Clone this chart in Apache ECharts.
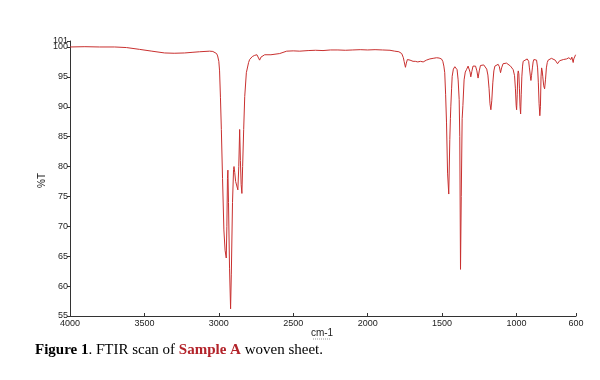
<!DOCTYPE html>
<html>
<head>
<meta charset="utf-8">
<script src="https://cdn.jsdelivr.net/npm/echarts@6/dist/echarts.min.js"></script>
<style>
html,body{margin:0;padding:0;background:#fff;}
#chart{width:600px;height:380px;}
</style>
</head>
<body>
<div id="chart"></div>
<script>
// Wavenumber (cm-1) and transmittance (%T)
const wavenumbers = [
4000,3900,3802,3700,3620,3533,3450,3364,3300,3230,3180,3129,3062,3040,3028,3015,3008,3000,2995,2989,
2983,2975,2966,2958,2950,2946,2942,2939,2935,2928,2921,2916,2908,2901,2898,2893,2887,2882,2879,2872,
2866,2860,2855,2850,2845,2840,2833,2826,2815,2800,2793,2775,2759,2744,2735,2726,2717,2707,2692,2650,
2591,2544,2500,2456,2400,2350,2300,2250,2200,2150,2100,2050,2000,1950,1900,1850,1818,1790,1771,1760,
1755,1746,1740,1733,1728,1715,1695,1680,1663,1645,1627,1605,1582,1560,1537,1520,1504,1495,1488,1482,
1476,1470,1463,1455,1448,1444,1441,1436,1432,1424,1414,1405,1399,1392,1385,1381,1376,1371,1365,1360,
1358,1352,1344,1336,1325,1318,1312,1307,1300,1292,1286,1275,1266,1258,1250,1242,1235,1220,1212,1200,
1192,1184,1178,1172,1166,1159,1152,1145,1135,1123,1115,1107,1100,1090,1078,1067,1056,1040,1022,1013,
1007,1002,999,995,991,988,984,980,976,972,968,964,959,955,945,928,918,913,906,903,
899,893,888,883,875,865,858,853,848,843,839,835,831,827,823,817,811,805,799,793,
787,775,765,753,740,731,724,717,710,697,685,675,663,655,648,640,634,628,624,619,
615,611,606,603,600
];
const transmittance = [
100.0,100.05,100.0,100.0,99.9,99.6,99.3,99.0,98.95,99.0,99.1,99.2,99.3,99.25,99.1,98.9,98.5,97.6,96.0,91.5,
86.2,78,69.4,66,64.7,70,78,79.4,74,63,56.2,62,74,79.5,80.0,79,77.5,77.2,77.8,76.1,
80,86.2,81,77,75.5,80,86.2,91.7,95.7,97.4,97.9,98.4,98.6,98.7,98.5,97.8,98.3,98.6,98.7,98.7,
98.9,99.3,99.35,99.3,99.4,99.45,99.4,99.5,99.5,99.45,99.5,99.55,99.5,99.55,99.5,99.45,99.3,99.2,98.9,98.2,
97.6,96.6,97.3,97.9,98.0,97.8,97.6,97.6,97.5,97.6,97.5,97.8,98.0,98.1,98.2,98.15,98.0,97.6,96.8,95.7,
92,87.3,78.9,75.4,84.5,88,90.1,93,95.1,96.3,96.7,96.5,96.2,94.5,91.2,85,62.8,75,88,90.2,
90.4,94.5,95.8,96.2,96.8,96.5,95.8,95.0,95.9,96.8,97.1,96.8,96.0,94.8,96.0,96.9,97.1,97.0,96.8,96.3,
95.3,93,90.5,89.5,91,94,96,96.8,97.0,97.1,96.7,95.7,96.5,97.2,97.4,97.3,97.1,96.8,96.2,95.2,
93,90.2,89.5,92,95.5,96.0,95.5,93,90,88.8,92,95,96.8,97.6,97.9,98.0,97.6,96.5,95,94.4,
95.2,96.5,97.5,97.9,97.9,97.8,96.5,94,90.5,88.5,90,95,96.5,96,95,93.5,93.0,94.5,96.5,97.4,
97.8,98.0,98.1,98.0,97.8,97.5,97.2,97.5,97.7,97.8,97.9,98.0,98.0,98.2,98.2,98.0,97.9,98.3,98.1,97.4,
98.0,98.3,98.5,98.7,98.6
];
const xTicks = [4000,3500,3000,2500,2000,1500,1000,600];
const yTicks = [55,60,65,70,75,80,85,90,95,100];
const yTopTick = [101];

const points = wavenumbers.map((w, i) => [w, transmittance[i]]);

const chart = echarts.init(document.getElementById('chart'), null, {renderer: 'canvas'});
const labelFont = {fontFamily: 'Liberation Sans, Arial, sans-serif', fontSize: 9, color: '#222'};
const plain = function (v) { return String(v); };

chart.setOption({
  animation: false,
  backgroundColor: '#ffffff',
  grid: {left: 70, right: 24, top: 41, bottom: 64},
  xAxis: {
    type: 'value',
    inverse: true,
    min: 600,
    max: 4000,
    axisLine: {lineStyle: {color: '#333', width: 1}},
    axisTick: {show: true, inside: true, length: 3, lineStyle: {color: '#333'}, customValues: xTicks},
    axisLabel: Object.assign({customValues: xTicks, margin: 3, showMinLabel: true, showMaxLabel: true,
      formatter: plain}, labelFont),
    splitLine: {show: false}
  },
  yAxis: [{
    type: 'value',
    min: 55,
    max: 101,
    position: 'left',
    axisLine: {show: true, lineStyle: {color: '#333', width: 1}},
    axisTick: {show: true, length: 3, lineStyle: {color: '#333'}, customValues: yTicks},
    axisLabel: Object.assign({customValues: yTicks, margin: 2, formatter: plain}, labelFont),
    splitLine: {show: false}
  }, {
    type: 'value',
    min: 55,
    max: 101,
    position: 'left',
    offset: 0,
    axisLine: {show: false},
    axisTick: {show: true, length: 3, lineStyle: {color: '#333'}, customValues: yTopTick},
    axisLabel: Object.assign({customValues: yTopTick, margin: 2, formatter: plain}, labelFont),
    splitLine: {show: false}
  }],
  series: [{
    type: 'line',
    yAxisIndex: 0,
    data: points,
    showSymbol: false,
    symbol: 'none',
    smooth: false,
    lineStyle: {color: '#c9302f', width: 1},
    itemStyle: {color: '#c9302f'}
  }],
  graphic: [
    {
      type: 'text', left: 37, top: 173, rotation: Math.PI / 2,
      style: {text: '%T', font: '10px Liberation Sans, Arial, sans-serif', fill: '#222'}
    },
    {
      type: 'text', x: 322, y: 333,
      style: {text: 'cm-1', font: '10px Liberation Sans, Arial, sans-serif', fill: '#222', align: 'center', verticalAlign: 'middle'}
    },
    {
      type: 'line', shape: {x1: 313, y1: 339, x2: 331, y2: 339},
      style: {stroke: '#9a9a9a', lineWidth: 1, lineDash: [1, 1]}
    },
    {
      type: 'text', x: 35, y: 350,
      style: {
        text: '{b|Figure 1}{n|. FTIR scan of }{r|Sample A}{n| woven sheet.}',
        verticalAlign: 'middle',
        rich: {
          b: {fontFamily: 'Liberation Serif, Times New Roman, serif', fontSize: 15, fontWeight: 'bold', fill: '#000'},
          n: {fontFamily: 'Liberation Serif, Times New Roman, serif', fontSize: 15, fill: '#000'},
          r: {fontFamily: 'Liberation Serif, Times New Roman, serif', fontSize: 15, fontWeight: 'bold', fill: '#b3232a'}
        }
      }
    }
  ]
});
</script>
</body>
</html>
